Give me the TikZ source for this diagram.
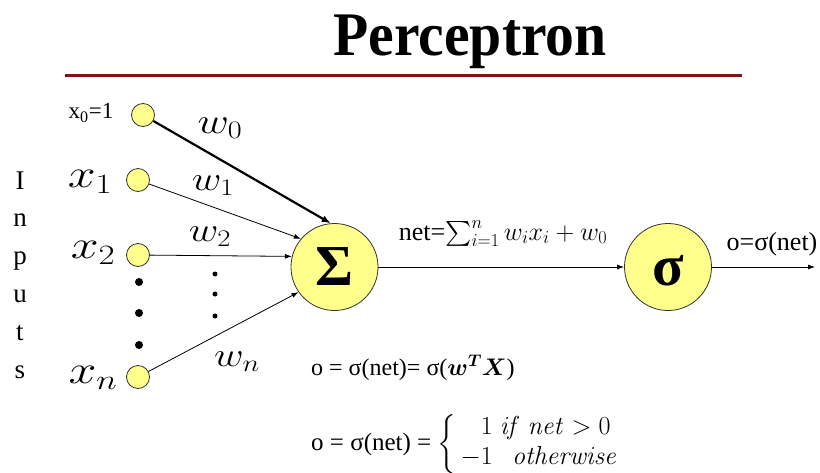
\RequirePackage{fix-cm}
\documentclass[tikz,border=0pt]{standalone}
\usepackage{amsmath}
\usepackage[no-math]{fontspec}
\setmainfont{Liberation Serif}
\usetikzlibrary{arrows.meta}
\definecolor{cyel}{RGB}{255,255,140}
\definecolor{cred}{RGB}{130,18,18}
\newcommand{\fsz}[1]{\fontsize{#1}{#1}\selectfont}
\begin{document}
\begin{tikzpicture}[x=1pt,y=-1pt,
  inp/.style={circle,draw=black!80,line width=0.8pt,fill=cyel,minimum size=23pt,inner sep=0pt},
  unit/.style={circle,draw=black!80,line width=0.8pt,fill=cyel,minimum size=87pt,inner sep=0pt,font=\fsz{58}\bfseries},
  bigdot/.style={circle,fill=black,minimum size=8pt,inner sep=0pt},
  smalldot/.style={circle,fill=black,minimum size=5pt,inner sep=0pt},
  conn/.style={line width=0.8pt,-{Latex[length=7pt,width=5pt]}},
  thickconn/.style={line width=2.2pt,-{Latex[length=9pt,width=7pt]}},
  xlab/.style={font=\fsz{40},inner sep=0pt,xscale=1.25},
  wlab/.style={font=\fsz{34},inner sep=0pt,xscale=1.2},
  txt/.style={font=\fsz{24},inner sep=0pt},
  letter/.style={font=\fsz{27},inner sep=0pt,anchor=base}
]
\useasboundingbox (0,0) rectangle (820,472);

% title and rule
\node[font=\fsz{62}\bfseries,xscale=0.93,anchor=base,inner sep=0pt] (title) at (470,55) {Perceptron};
\draw[cred,line width=3pt] (65,75) -- (742,75);

% "Inputs"
\foreach \ch [count=\i] in {I,n,p,u,t,s}
  \node[letter] (in\i) at (20,{189+37.8*(\i-1)}) {\ch};

% input circles
\node[inp] (x0) at (143,115) {};
\node[inp] (x1) at (138,180) {};
\node[inp] (x2) at (138,255) {};
\node[inp] (xn) at (138,377) {};

\node[bigdot] (d1) at (139,282) {};
\node[bigdot] (d2) at (139,313) {};
\node[bigdot] (d3) at (139,345) {};

\node[smalldot] (e1) at (215,274) {};
\node[smalldot] (e2) at (215,294) {};
\node[smalldot] (e3) at (215,316) {};

% input labels
\node[font=\fsz{23},inner sep=0pt] (lx0) at (91,113) {x\textsubscript{0}=1};
\node[xlab] (lx1) at (90,182) {$x_1$};
\node[xlab] (lx2) at (93,253) {$x_2$};
\node[xlab] (lxn) at (93,378) {$x_n$};

% units
\node[unit] (S) at (334.5,267) {Σ};
\node[unit] (sig) at (668,267) {\vphantom{Σ}σ};
\coordinate (out) at (815,267);

% connectors
\draw[thickconn] (x0) -- (S.95);
\draw[conn] (x1) -- (S.140);
\draw[conn] (x2) -- (S.166);
\draw[conn] (xn) -- (S.215);
\draw[conn] (S) -- (sig);
\draw[conn] (sig) -- (out);

% weights
\node[wlab,font=\fsz{36}] (w0) at (220,128) {$w_0$};
\node[wlab] (w1) at (213,186) {$w_1$};
\node[wlab] (w2) at (210,237) {$w_2$};
\node[wlab] (wn) at (237,362) {$w_n$};

% labels on the main line
\node[txt,font=\fsz{26},anchor=base] (net) at (503,240) {net=$\sum_{i=1}^{n} w_i x_i + w_0$};
\node[txt,font=\fsz{26},anchor=base] (outl) at (772,250) {o=σ(net)};

% equations
\node[txt,anchor=west] (eq1) at (311,368) {o = σ(net)= σ($\boldsymbol{w}^{\boldsymbol{T}}\boldsymbol{X}$)};
\node[txt,font=\fsz{25},anchor=west] (eq2) at (311,444) {o = σ(net) = $\fsz{26}\left\{\begin{array}{@{\,}r@{}l@{}}
  1 & \;\mathit{if}\ \mathit{net}>0\\[4pt]
  -1 & \ \ \ \mathit{otherwise}\end{array}\right.$};
\end{tikzpicture}
\end{document}
